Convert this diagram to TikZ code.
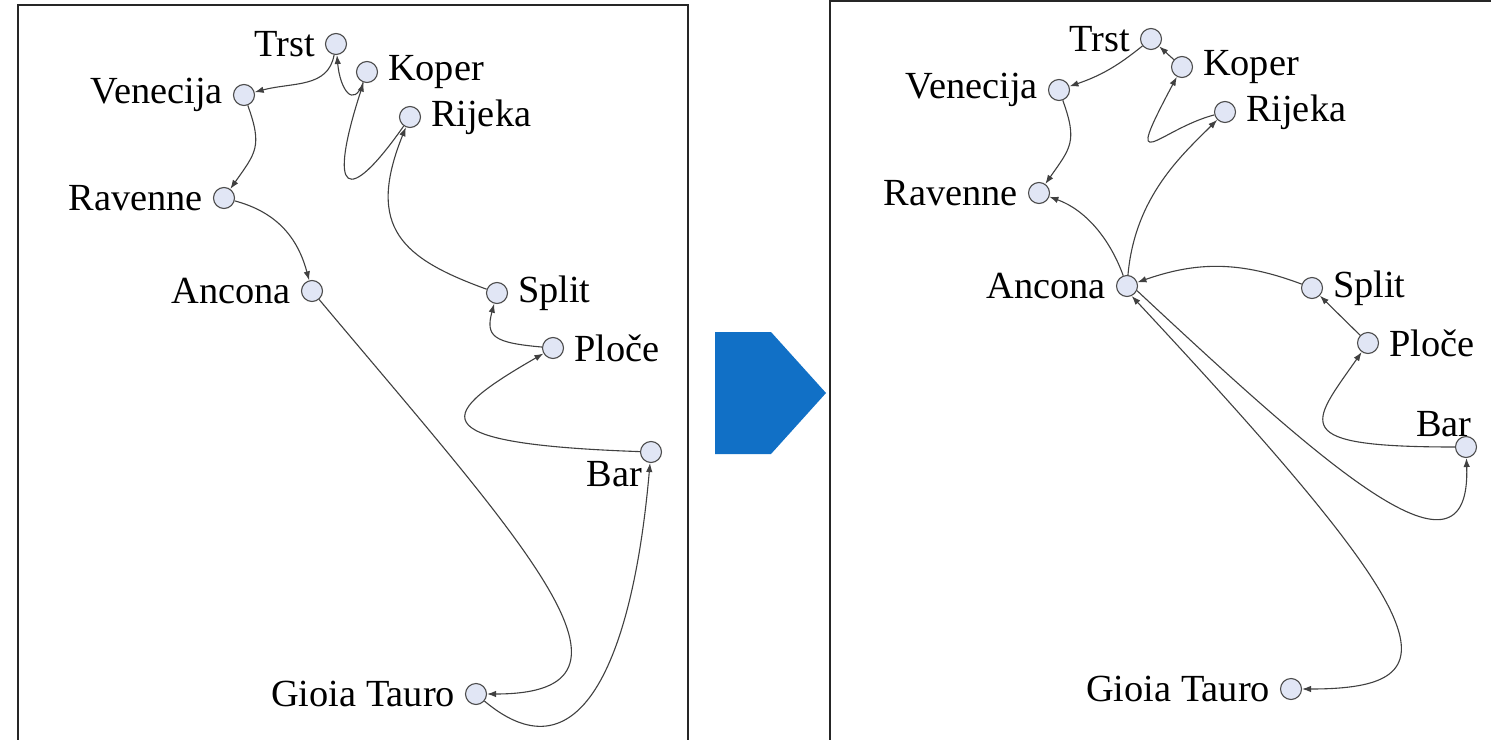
\documentclass[tikz,border=0pt]{standalone}
\usepackage{fontspec}
\setmainfont{Liberation Serif}
\usetikzlibrary{arrows.meta}
\definecolor{portfill}{RGB}{225,230,245}
\definecolor{arrowblue}{RGB}{17,112,198}

\begin{document}
\begin{tikzpicture}[x=1bp,y=1bp,
  >={Latex[length=9bp,width=6.5bp]},
  port/.style={circle,draw=black!70,fill=portfill,line width=1.1bp,minimum size=21bp,inner sep=0pt},
  route/.style={->,draw=black!75,line width=1.1bp},
  panel/.style={draw=black!85,line width=2bp},
  every label/.style={font=\fontsize{38.5}{46}\selectfont},
  label distance=6.5bp]
  \fill[white] (0,0) rectangle (1491,-740);
  \useasboundingbox (0,0) rectangle (1491,-740);
  \draw[panel] (18,-750) |- (688,-5) -- (688,-750);
  \draw[panel] (830,-750) |- (1500,-1.5);
  \fill[arrowblue] (715,-332) -- (771,-332) -- (826,-393) -- (771,-454) -- (715,-454) -- cycle;

  % same ports in both panels
  \foreach \p/\dx/\dy in {l/0/0, r/815/5}{
    \begin{scope}[shift={(\dx,\dy)}]
      \foreach \n/\x/\y/\lp/\txt in {trst/336/44/left/Trst, koper/367/72/right/Koper,
          venecija/244/95/left/Venecija, rijeka/410/117/right/Rijeka,
          ravenne/224/198/left/Ravenne, ancona/312/291/left/Ancona,
          split/497/293/right/Split, ploce/553/348/right/Ploče,
          gioia/476/694/left/Gioia Tauro}
        \node[port,label={\lp:\txt}] (\p-\n) at (\x,-\y) {};
    \end{scope}
  }
  \node[port,label={[inner sep=1bp,label distance=0pt,anchor=north east]south west:Bar}] (l-bar) at (651,-452) {};
  \node[port,label={[inner sep=2bp,label distance=0pt,anchor=south east]north east:Bar}] (r-bar) at (1466,-447) {};

  % before
  \draw[route] (l-trst) .. controls +(-100:45) and +(15:50) .. (l-venecija);
  \draw[route] (l-koper) .. controls +(-110:40) and +(-85:45) .. (l-trst);
  \draw[route] (l-rijeka) .. controls +(-125:110) and +(-108:130) .. (l-koper);
  \draw[route] (l-split) .. controls +(160:100) and +(-112:120) .. (l-rijeka);
  \draw[route] (l-venecija) .. controls +(-70:55) and +(55:55) .. (l-ravenne);
  \draw[route] (l-ravenne) .. controls +(-15:55) and +(105:55) .. (l-ancona);
  \draw[route] (l-ancona) .. controls +(-50:330) and +(0:190) .. (l-gioia);
  \draw[route] (l-gioia) .. controls +(-40:140) and +(-95:200) .. (l-bar);
  \draw[route] (l-bar) .. controls +(178:240) and +(-150:130) .. (l-ploce);
  \draw[route] (l-ploce) .. controls +(175:60) and +(-105:45) .. (l-split);

  % after
  \draw[route] (r-trst) to[bend left=10] (r-venecija);
  \draw[route] (r-koper) -- (r-trst);
  \draw[route] (r-rijeka) .. controls +(-165:70) and +(-118:130) .. (r-koper);
  \draw[route] (r-ancona) .. controls +(85:90) and +(-135:60) .. (r-rijeka);
  \draw[route] (r-venecija) .. controls +(-70:55) and +(55:55) .. (r-ravenne);
  \draw[route] (r-ancona) .. controls +(110:50) and +(-20:50) .. (r-ravenne);
  \draw[route] (r-split) to[bend right=20] (r-ancona);
  \draw[route] (r-ploce) -- (r-split);
  \draw[route] (r-bar) .. controls +(180:180) and +(-125:100) .. (r-ploce);
  \draw[route] (r-ancona.-25) .. controls +(-43:260) and +(-88:150) .. (r-bar);
  \draw[route,<->] (r-ancona.-65) .. controls +(-47:450) and +(0:170) .. (r-gioia);
\end{tikzpicture}
\end{document}
